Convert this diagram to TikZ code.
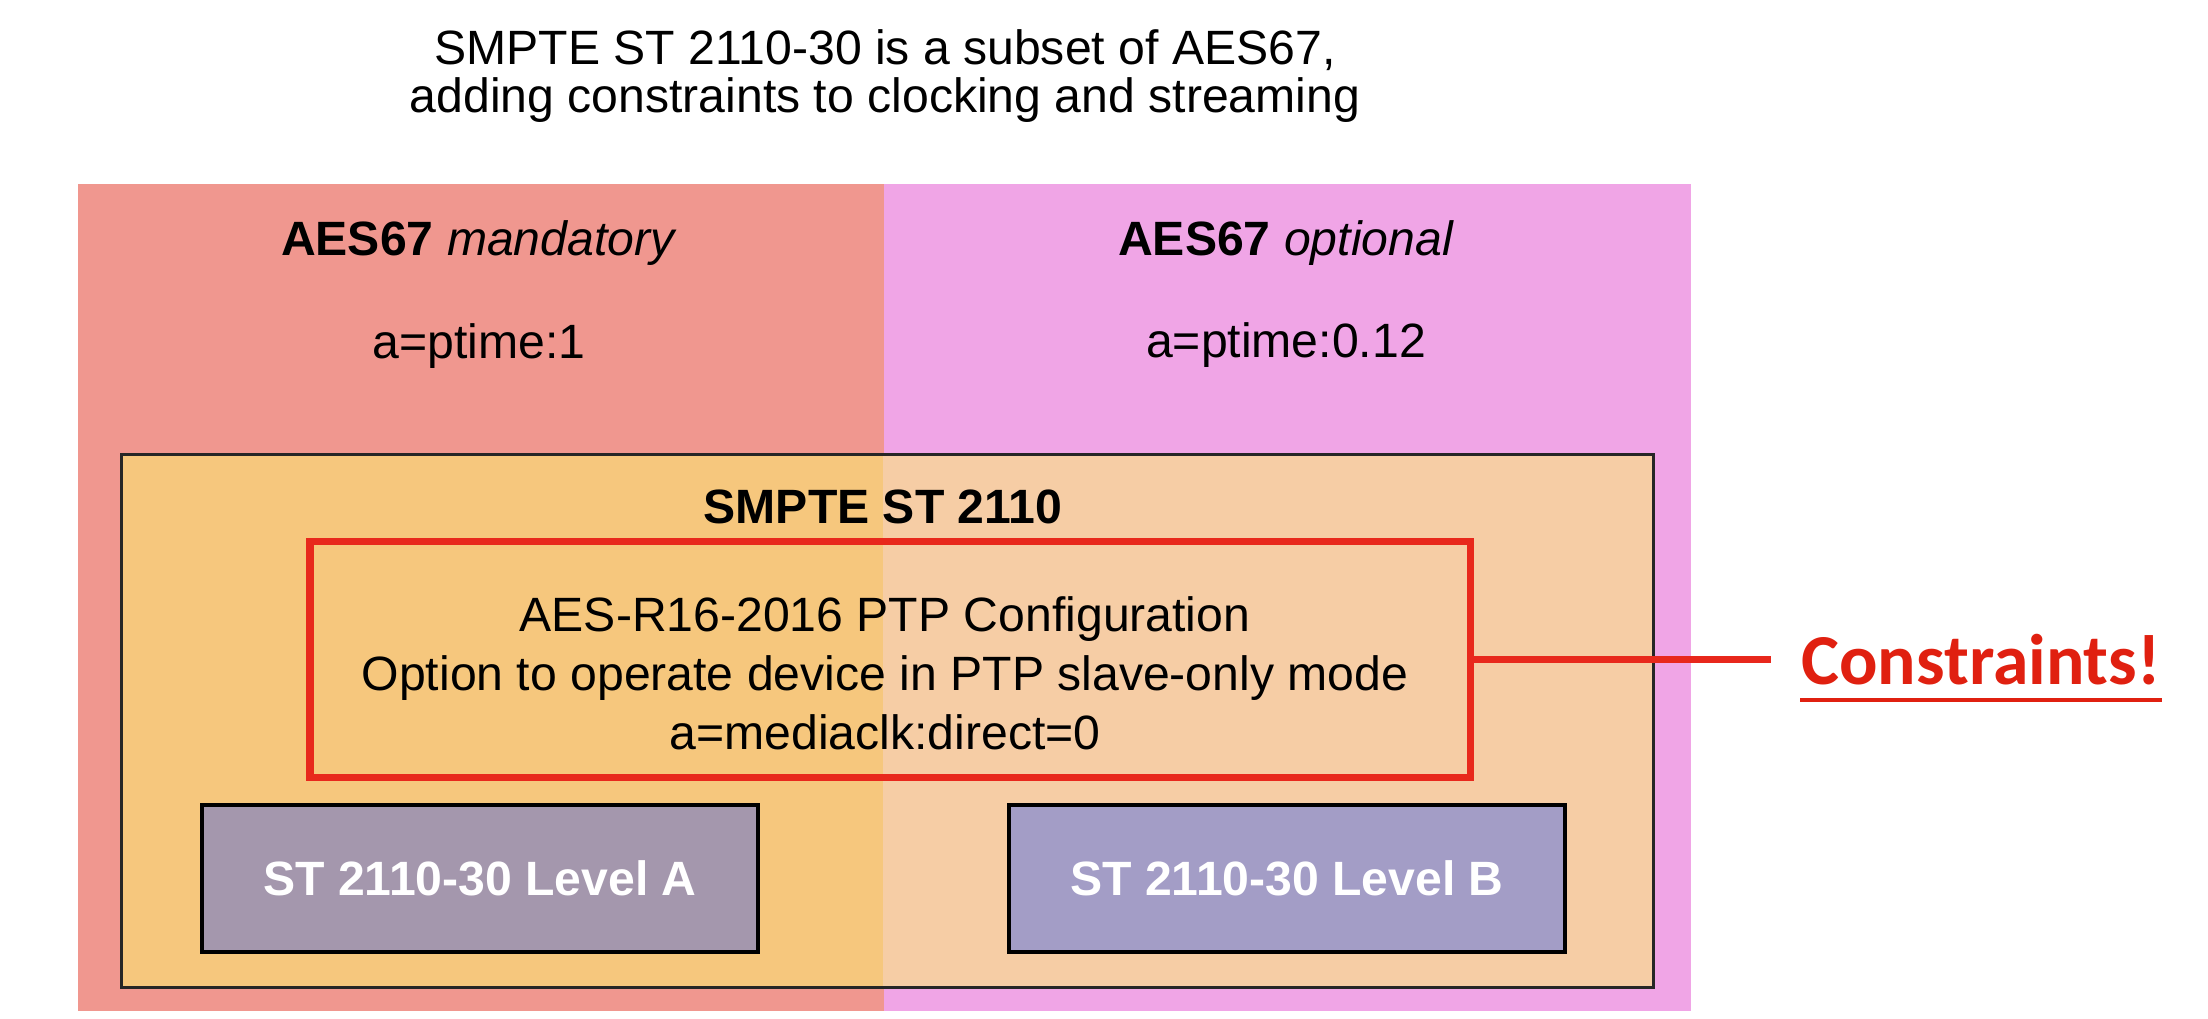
\documentclass[tikz,border=0pt]{standalone}
\usepackage{fontspec}
\setmainfont{Liberation Sans}
\newfontfamily\calibrifont{Carlito}
\usepackage{tikz}
\usetikzlibrary{positioning}

\definecolor{mandfill}{RGB}{240,151,143}
\definecolor{optfill}{RGB}{240,165,230}
\definecolor{smpteleft}{RGB}{246,199,125}
\definecolor{smpteright}{RGB}{246,205,165}
\definecolor{levelA}{RGB}{164,151,173}
\definecolor{levelB}{RGB}{163,157,198}
\definecolor{redline}{RGB}{232,40,28}
\definecolor{constred}{RGB}{224,32,16}

\begin{document}
\begin{tikzpicture}[x=1cm, y=-1cm, thick,
  every node/.style={font=\fontsize{13.7}{13.4}\selectfont},
  panel node/.style={rectangle, inner sep=0pt, anchor=north west},
  level node/.style={rectangle, draw=black, line width=0.9pt,
    minimum width=5.56cm, minimum height=1.47cm,
    font=\fontsize{13.7}{16}\selectfont\bfseries, text=white},
  red box/.style={rectangle, draw=redline, line width=2pt,
    minimum width=11.6cm, minimum height=2.36cm}]

\useasboundingbox (0,0) rectangle (22.08,10.18);

% the two AES67 halves (left one runs a little under the right one)
\node[panel node, fill=mandfill, minimum width=8.10cm, minimum height=8.27cm] (mand) at (0.77,1.83) {};
\node[panel node, fill=optfill, minimum width=8.07cm, minimum height=8.27cm] (opt) at (8.83,1.83) {};

% SMPTE box over both halves
\fill[smpteleft] (1.20,4.53) rectangle (8.86,9.86);
\fill[smpteright] (8.83,4.53) rectangle (16.52,9.86);
\node[panel node, draw=black!85, line width=0.8pt, minimum width=15.32cm, minimum height=5.33cm] (smpte) at (1.20,4.53) {};

\node[align=center] (title) at (8.85,0.76) {SMPTE ST 2110-30 is a subset of AES67,\\ adding constraints to clocking and streaming};

\node[anchor=base] (mandhead) at (4.79,2.55) {\textbf{AES67} \textit{mandatory}};
\node[anchor=base] (mandptime) at (4.79,3.58) {a=ptime:1};
\node[anchor=base] (opthead) at (12.86,2.55) {\textbf{AES67} \textit{optional}};
\node[anchor=base] (optptime) at (12.86,3.57) {a=ptime:0.12};

\node[anchor=base, font=\fontsize{13.7}{16}\selectfont\bfseries] (smptehead) at (8.83,5.23) {SMPTE ST 2110};

% constraints box
\node[red box] (ptp) at (8.90,6.59) {};
\node[align=center, font=\fontsize{13.7}{16.8}\selectfont] (ptptext) at (8.85,6.735)
  {AES-R16-2016 PTP Configuration\\ Option to operate device in PTP slave-only mode\\ a=mediaclk:direct=0};

\node[level node, fill=levelA] (levA) at (4.80,8.785) {ST 2110-30 Level A};
\node[level node, fill=levelB] (levB) at (12.87,8.785) {ST 2110-30 Level B};

\node[anchor=base west, inner sep=0pt, text=constred,
  font=\calibrifont\fontsize{20.4}{24}\selectfont\bfseries] (constr) at (18.00,6.84) {Constraints!};
\draw[constred, line width=1.4pt] ([yshift=-0.16cm]constr.base west) -- ([yshift=-0.16cm]constr.base east);

\draw[redline, line width=2pt] (ptp.east) -- ([xshift=-0.29cm]constr.west |- ptp.east);

\end{tikzpicture}
\end{document}
